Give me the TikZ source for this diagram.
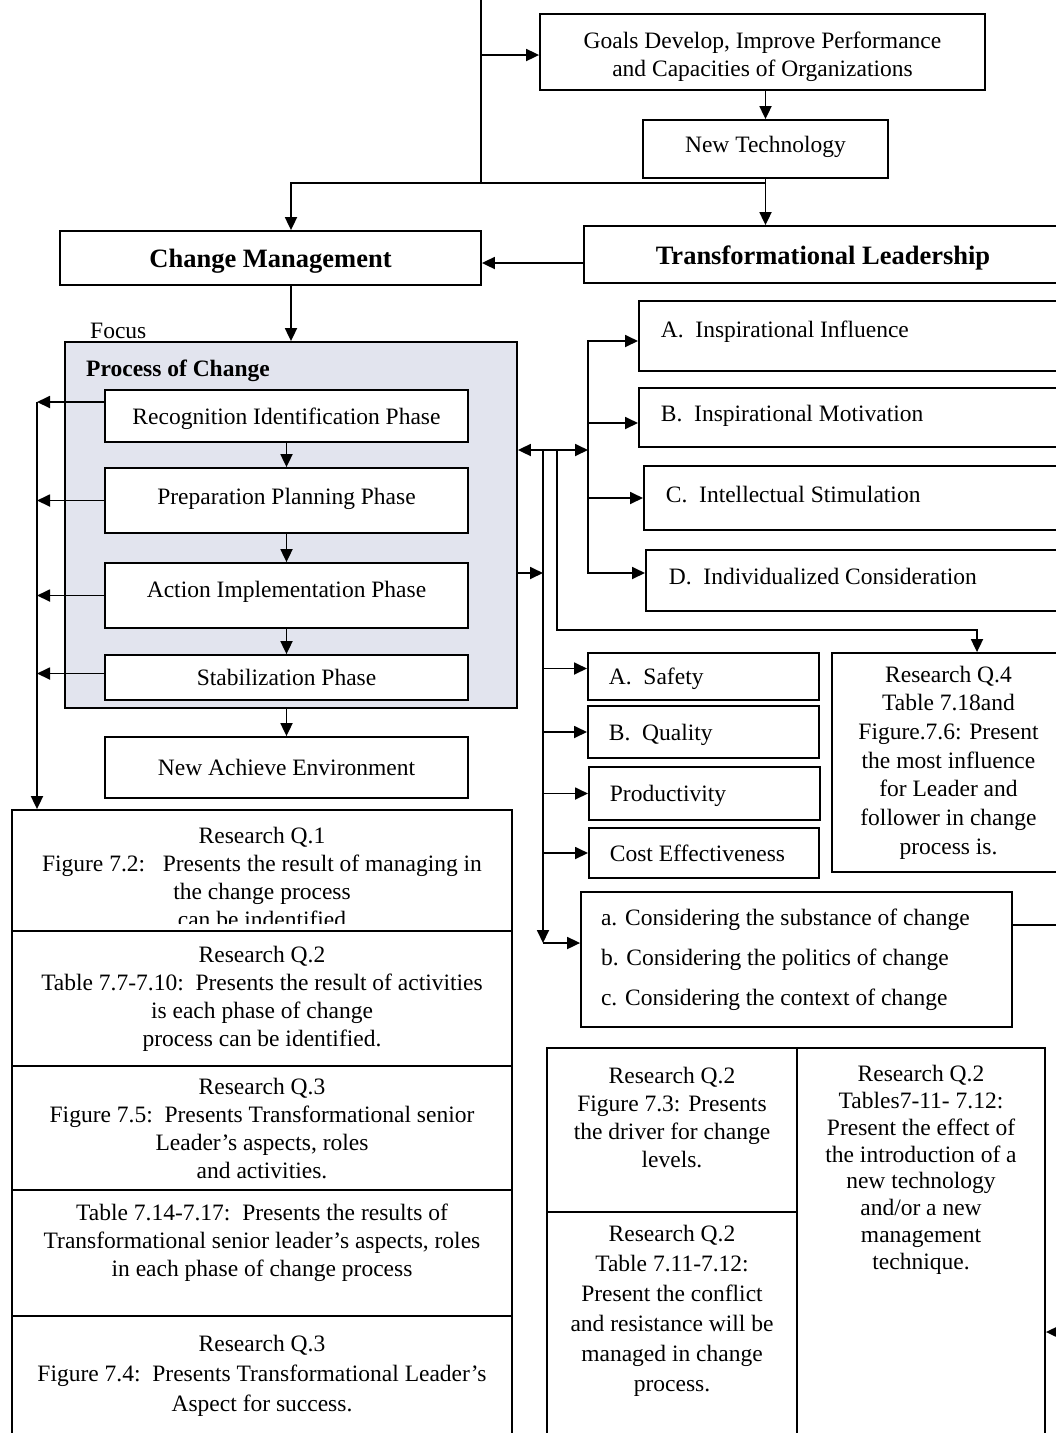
\documentclass[tikz,border=0pt]{standalone}
\usepackage{fontspec}
\setmainfont{Liberation Serif}
\usetikzlibrary{arrows.meta}
\newcommand{\fs}{\fontsize{23.5}{28}\selectfont}
\newcommand{\fsbig}{\fontsize{26.5}{31}\selectfont}
\definecolor{procfill}{RGB}{226,228,238}
\tikzstyle{box} = [rectangle, draw=black, line width=1.8pt, fill=white, inner sep=0pt, font=\fs]
\tikzstyle{phase} = [box, minimum width=363pt, text height=16pt, text depth=0pt]
\tikzstyle{item} = [box, anchor=west, align=flush left, inner xsep=21pt, text height=16pt, text depth=0pt]
\tikzstyle{note} = [anchor=north, align=center, inner sep=0pt, font=\fs]
\tikzstyle{arrow} = [line width=1.8pt, ->, >={Triangle[length=13pt,width=12pt]}]

\begin{document}
\begin{tikzpicture}[x=1pt,y=-1pt]
\useasboundingbox (0,0) rectangle (1056,1433);
\clip (0,0) rectangle (1056,1433);

\node (goals) [box, minimum width=445pt, minimum height=76pt] at (762.5,52) {};
\node (goalstext) [note] at ([yshift=-19pt]goals.north) {Goals Develop, Improve Performance\\and Capacities of Organizations};
\node (newtech) [box, minimum width=245pt, minimum height=58pt, text height=16pt, text depth=10pt] at (765.5,149) {New Technology};
\node (change) [box, minimum width=421pt, minimum height=54pt, font=\fsbig\bfseries, text height=18pt, text depth=0pt] at (270.5,258) {Change Management};
\node (translead) [box, minimum width=478pt, minimum height=57pt, font=\fsbig\bfseries, text height=20pt, text depth=0pt] at (823,254.5) {Transformational Leadership};

\node (procbox) [box, fill=procfill, minimum width=452pt, minimum height=366pt] at (291,525) {};
\node (focuslabel) [anchor=base west, inner sep=0pt, font=\fs] at (90,338) {Focus};
\node (proctitle) [anchor=base west, inner sep=0pt, font=\fs\bfseries] at (86,376) {Process of Change};
\node (recog) [phase, minimum height=52pt] at (286.5,416) {Recognition Identification Phase};
\node (prep) [phase, minimum height=65pt, text depth=9pt] at (286.5,500.5) {Preparation Planning Phase};
\node (action) [phase, minimum height=65pt, text depth=13pt] at (286.5,595.5) {Action Implementation Phase};
\node (stab) [phase, minimum height=45pt] at (286.5,677.5) {Stabilization Phase};
\node (newach) [phase, minimum height=61pt] at (286.5,767.5) {New Achieve Environment};

\node (influence) [item, text width=388pt, inner xsep=22pt, minimum height=70pt, text depth=14pt] at (638,336) {A.\ \ Inspirational Influence};
\node (motivation) [item, text width=388pt, inner xsep=22pt, minimum height=59pt, text depth=9pt] at (638,417.5) {B.\ \ Inspirational Motivation};
\node (stimulation) [item, text width=383pt, inner xsep=22pt, minimum height=64pt, text depth=8pt] at (643,498) {C.\ \ Intellectual Stimulation};
\node (consideration) [item, text width=379pt, inner xsep=23pt, minimum height=61pt, text depth=9pt] at (645,580.5) {D.\ \ Individualized Consideration};

\node (safety) [item, text width=189pt, minimum height=47pt] at (587,676.5) {A.\ \ Safety};
\node (quality) [item, text width=189pt, minimum height=52pt] at (587,732) {B.\ \ Quality};
\node (productivity) [item, text width=189pt, minimum height=53pt] at (588,793.5) {Productivity};
\node (cost) [item, text width=188pt, minimum height=50pt] at (588,853) {Cost Effectiveness};
\node (q4) [box, minimum width=233pt, minimum height=219pt, align=center, font=\fontsize{23.5}{28.7}\selectfont] at (948.5,762.5) {Research Q.4\\Table 7.18and\\Figure.7.6: Present\\the most influence\\for Leader and\\follower in change\\process is.};
\node (substance) [box, minimum height=135pt, text width=391pt, inner xsep=20pt, align=flush left, font=\fontsize{23.5}{40}\selectfont] at (796.5,959.5) {a. Considering the substance of change\\b. Considering the politics of change\\c. Considering the context of change};

\node (rq1) [box, minimum width=500pt, minimum height=121pt] at (262,870.5) {};
\begin{scope}
\clip (rq1.north west) rectangle ([yshift=8pt]rq1.south east);
\node (rq1text) [note] at ([yshift=-18pt]rq1.north) {Research Q.1\\Figure 7.2:\ \ \ Presents the result of managing in\\the change process\\can be indentified};
\end{scope}
\node (rq2) [box, minimum width=500pt, minimum height=135pt, align=center] at (262,998.5) {Research Q.2\\Table 7.7-7.10:\ \ Presents the result of activities\\is each phase of change\\process can be identified.};
\node (rq3) [box, minimum width=500pt, minimum height=124pt, align=center] at (262,1128) {Research Q.3\\Figure 7.5:\ \ Presents Transformational senior\\Leader's aspects, roles\\and activities.};
\node (rq4) [box, minimum width=500pt, minimum height=127pt] at (262,1253.5) {};
\node (rq4text) [note] at ([yshift=-15pt]rq4.north) {Table 7.14-7.17:\ \ Presents the results of\\Transformational senior leader's aspects, roles\\in each phase of change process};
\node (rq5) [box, minimum width=500pt, minimum height=129pt] at (262,1380.5) {};
\node (rq5text) [note, font=\fontsize{23.5}{30}\selectfont] at ([yshift=-20pt]rq5.north) {Research Q.3\\Figure 7.4:\ \ Presents Transformational Leader's\\Aspect for success.};

\node (driverq) [box, minimum width=250pt, minimum height=164pt] at (672,1130) {};
\node (driverqtext) [note] at ([yshift=-20pt]driverq.north) {Research Q.2\\Figure 7.3: Presents\\the driver for change\\levels.};
\node (conflictq) [box, minimum width=250pt, minimum height=233pt] at (672,1328.5) {};
\node (conflictqtext) [note, font=\fontsize{23.5}{30}\selectfont] at ([yshift=-14pt]conflictq.north) {Research Q.2\\Table 7.11-7.12:\\Present the conflict\\and resistance will be\\managed in change\\process.};
\node (techq) [box, minimum width=248pt, minimum height=397pt] at (921,1246.5) {};
\node (techqtext) [note, font=\fontsize{23.5}{26.8}\selectfont] at ([yshift=-18pt]techq.north) {Research Q.2\\Tables7-11- 7.12:\\Present the effect of\\the introduction of a\\new technology\\and/or a new\\management\\technique.};

\coordinate (top) at (481,0);
\coordinate (split) at (481,183);
\coordinate (tlev) at ([yshift=-8.5pt]translead.west);
\coordinate (lbus) at (37,402);
\coordinate (hub) at (588,450);
\coordinate (abus) at (543,450);
\coordinate (bbus) at (557,450);
\coordinate (dlev) at ([yshift=7.5pt]consideration.west);
\coordinate (aend) at (543,943);
\coordinate (bturn) at (977,630);
\coordinate (sright) at (1056,925);
\coordinate (bright) at (1056,1332);

\draw [line width=1.8pt] (top) -- (split);
\draw [arrow] ([yshift=-3pt]top |- goals.west) -- ([yshift=-3pt]goals.west);
\draw [arrow] (newtech.north |- goals.south) -- (newtech.north);
\draw [line width=1.8pt] (split) -- (split -| newtech);
\draw [arrow] (newtech) -- (newtech |- translead.north);
\draw [arrow] (split) -| (procbox.north |- change.north);
\draw [arrow] (tlev) -- (tlev -| change.east);
\draw [arrow] (procbox.north |- change.south) -- (procbox.north);

\draw [arrow] (recog) -- (prep);
\draw [arrow] (prep) -- (action);
\draw [arrow] (action) -- (stab);
\draw [arrow] (procbox.south -| newach) -- (newach);

\draw [arrow] ([yshift=14pt]recog.west) -- (lbus);
\draw [arrow] (prep.west) -- (prep.west -| lbus);
\draw [arrow] (action.west) -- (action.west -| lbus);
\draw [arrow] ([yshift=4pt]stab.west) -- ([yshift=4pt]stab.west -| lbus);
\draw [arrow] (lbus) -- (lbus |- rq1.north);

\draw [arrow, <->] (hub -| procbox.east) -- (hub);
\draw [arrow] (hub) |- ([yshift=-5pt]influence.west);
\draw [arrow] (hub) |- ([yshift=-5.5pt]motivation.west);
\draw [arrow] (hub) |- (stimulation.west);
\draw [arrow] (hub) |- (dlev);
\draw [arrow] (dlev -| procbox.east) -- (dlev -| abus);

\draw [arrow] (abus) |- ([yshift=8pt]safety.west);
\draw [arrow] (abus) |- (quality.west);
\draw [arrow] (abus) |- (productivity.west);
\draw [arrow] (abus) |- (cost.west);
\draw [arrow] (abus) -- (aend);
\draw [arrow] (aend) -- (aend -| substance.west);
\draw [arrow] (bbus) |- (bturn) -- (bturn |- q4.north);

\draw [line width=1.8pt] (sright -| substance.east) -- (sright);
\draw [arrow] (bright) -- (bright -| techq.east);
\end{tikzpicture}
\end{document}
